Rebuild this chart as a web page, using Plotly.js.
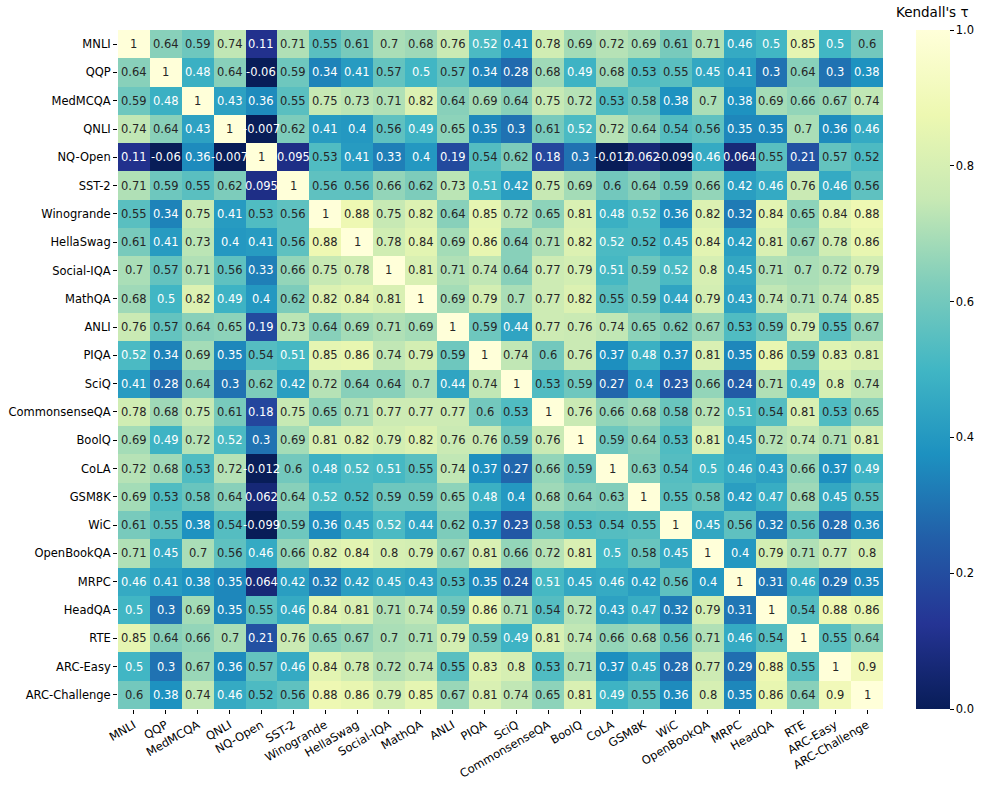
<!DOCTYPE html>
<html>
<head>
<meta charset="utf-8">
<script src="https://cdn.plot.ly/plotly-3.0.1.min.js"></script>
<style>
  body { margin: 0; background: #fff; }
  #chart { width: 987px; height: 787px; }
</style>
</head>
<body>
<div id="chart"></div>
<script>
// task names, same order on both axes
const tasks = ['MNLI','QQP','MedMCQA','QNLI','NQ-Open','SST-2','Winogrande','HellaSwag','Social-IQA','MathQA',
  'ANLI','PIQA','SciQ','CommonsenseQA','BoolQ','CoLA','GSM8K','WiC','OpenBookQA','MRPC','HeadQA','RTE','ARC-Easy','ARC-Challenge'];

// Kendall's tau, one row per task
// (a third decimal where the label colour shows the value sits just above .52)
const mnli       = [1, 0.64, 0.59, 0.74, 0.11, 0.71, 0.55, 0.61, 0.7, 0.68, 0.76, 0.52, 0.41, 0.78, 0.69, 0.72, 0.69, 0.61, 0.71, 0.46, 0.5, 0.85, 0.5, 0.6];
const qqp        = [0.64, 1, 0.48, 0.64, -0.06, 0.59, 0.34, 0.41, 0.57, 0.5, 0.57, 0.34, 0.28, 0.68, 0.49, 0.68, 0.53, 0.55, 0.45, 0.41, 0.3, 0.64, 0.3, 0.38];
const medmcqa    = [0.59, 0.48, 1, 0.43, 0.36, 0.55, 0.75, 0.73, 0.71, 0.82, 0.64, 0.69, 0.64, 0.75, 0.72, 0.53, 0.58, 0.38, 0.7, 0.38, 0.69, 0.66, 0.67, 0.74];
const qnli       = [0.74, 0.64, 0.43, 1, -0.007, 0.62, 0.41, 0.4, 0.56, 0.49, 0.65, 0.35, 0.3, 0.61, 0.52, 0.72, 0.64, 0.54, 0.56, 0.35, 0.35, 0.7, 0.36, 0.46];
const nqOpen     = [0.11, -0.06, 0.36, -0.007, 1, 0.095, 0.53, 0.41, 0.33, 0.4, 0.19, 0.54, 0.62, 0.18, 0.3, -0.012, 0.062, -0.099, 0.46, 0.064, 0.55, 0.21, 0.57, 0.524];
const sst2       = [0.71, 0.59, 0.55, 0.62, 0.095, 1, 0.56, 0.56, 0.66, 0.62, 0.73, 0.51, 0.42, 0.75, 0.69, 0.6, 0.64, 0.59, 0.66, 0.42, 0.46, 0.76, 0.46, 0.56];
const winogrande = [0.55, 0.34, 0.75, 0.41, 0.53, 0.56, 1, 0.88, 0.75, 0.82, 0.64, 0.85, 0.72, 0.65, 0.81, 0.48, 0.52, 0.36, 0.82, 0.32, 0.84, 0.65, 0.84, 0.88];
const hellaswag  = [0.61, 0.41, 0.73, 0.4, 0.41, 0.56, 0.88, 1, 0.78, 0.84, 0.69, 0.86, 0.64, 0.71, 0.82, 0.52, 0.524, 0.45, 0.84, 0.42, 0.81, 0.67, 0.78, 0.86];
const socialIqa  = [0.7, 0.57, 0.71, 0.56, 0.33, 0.66, 0.75, 0.78, 1, 0.81, 0.71, 0.74, 0.64, 0.77, 0.79, 0.51, 0.59, 0.52, 0.8, 0.45, 0.71, 0.7, 0.72, 0.79];
const mathqa     = [0.68, 0.5, 0.82, 0.49, 0.4, 0.62, 0.82, 0.84, 0.81, 1, 0.69, 0.79, 0.7, 0.77, 0.82, 0.55, 0.59, 0.44, 0.79, 0.43, 0.74, 0.71, 0.74, 0.85];
const anli       = [0.76, 0.57, 0.64, 0.65, 0.19, 0.73, 0.64, 0.69, 0.71, 0.69, 1, 0.59, 0.44, 0.77, 0.76, 0.74, 0.65, 0.62, 0.67, 0.53, 0.59, 0.79, 0.55, 0.67];
const piqa       = [0.52, 0.34, 0.69, 0.35, 0.54, 0.51, 0.85, 0.86, 0.74, 0.79, 0.59, 1, 0.74, 0.6, 0.76, 0.37, 0.48, 0.37, 0.81, 0.35, 0.86, 0.59, 0.83, 0.81];
const sciq       = [0.41, 0.28, 0.64, 0.3, 0.62, 0.42, 0.72, 0.64, 0.64, 0.7, 0.44, 0.74, 1, 0.53, 0.59, 0.27, 0.4, 0.23, 0.66, 0.24, 0.71, 0.49, 0.8, 0.74];
const csqa       = [0.78, 0.68, 0.75, 0.61, 0.18, 0.75, 0.65, 0.71, 0.77, 0.77, 0.77, 0.6, 0.53, 1, 0.76, 0.66, 0.68, 0.58, 0.72, 0.51, 0.54, 0.81, 0.53, 0.65];
const boolq      = [0.69, 0.49, 0.72, 0.52, 0.3, 0.69, 0.81, 0.82, 0.79, 0.82, 0.76, 0.76, 0.59, 0.76, 1, 0.59, 0.64, 0.53, 0.81, 0.45, 0.72, 0.74, 0.71, 0.81];
const cola       = [0.72, 0.68, 0.53, 0.72, -0.012, 0.6, 0.48, 0.52, 0.51, 0.55, 0.74, 0.37, 0.27, 0.66, 0.59, 1, 0.63, 0.54, 0.5, 0.46, 0.43, 0.66, 0.37, 0.49];
const gsm8k      = [0.69, 0.53, 0.58, 0.64, 0.062, 0.64, 0.52, 0.524, 0.59, 0.59, 0.65, 0.48, 0.4, 0.68, 0.64, 0.63, 1, 0.55, 0.58, 0.42, 0.47, 0.68, 0.45, 0.55];
const wic        = [0.61, 0.55, 0.38, 0.54, -0.099, 0.59, 0.36, 0.45, 0.52, 0.44, 0.62, 0.37, 0.23, 0.58, 0.53, 0.54, 0.55, 1, 0.45, 0.56, 0.32, 0.56, 0.28, 0.36];
const openbookqa = [0.71, 0.45, 0.7, 0.56, 0.46, 0.66, 0.82, 0.84, 0.8, 0.79, 0.67, 0.81, 0.66, 0.72, 0.81, 0.5, 0.58, 0.45, 1, 0.4, 0.79, 0.71, 0.77, 0.8];
const mrpc       = [0.46, 0.41, 0.38, 0.35, 0.064, 0.42, 0.32, 0.42, 0.45, 0.43, 0.53, 0.35, 0.24, 0.51, 0.45, 0.46, 0.42, 0.56, 0.4, 1, 0.31, 0.46, 0.29, 0.35];
const headqa     = [0.5, 0.3, 0.69, 0.35, 0.55, 0.46, 0.84, 0.81, 0.71, 0.74, 0.59, 0.86, 0.71, 0.54, 0.72, 0.43, 0.47, 0.32, 0.79, 0.31, 1, 0.54, 0.88, 0.86];
const rte        = [0.85, 0.64, 0.66, 0.7, 0.21, 0.76, 0.65, 0.67, 0.7, 0.71, 0.79, 0.59, 0.49, 0.81, 0.74, 0.66, 0.68, 0.56, 0.71, 0.46, 0.54, 1, 0.55, 0.64];
const arcEasy    = [0.5, 0.3, 0.67, 0.36, 0.57, 0.46, 0.84, 0.78, 0.72, 0.74, 0.55, 0.83, 0.8, 0.53, 0.71, 0.37, 0.45, 0.28, 0.77, 0.29, 0.88, 0.55, 1, 0.9];
const arcChall   = [0.6, 0.38, 0.74, 0.46, 0.524, 0.56, 0.88, 0.86, 0.79, 0.85, 0.67, 0.81, 0.74, 0.65, 0.81, 0.49, 0.55, 0.36, 0.8, 0.35, 0.86, 0.64, 0.9, 1];

const z = [mnli, qqp, medmcqa, qnli, nqOpen, sst2, winogrande, hellaswag, socialIqa, mathqa, anli, piqa, sciq,
  csqa, boolq, cola, gsm8k, wic, openbookqa, mrpc, headqa, rte, arcEasy, arcChall];

// matplotlib YlGnBu, reversed (0 = dark navy, 1 = pale yellow)
const ylgnbu = ['#081d58','#253494','#225ea8','#1d91c0','#41b6c4','#7fcdbb','#c7e9b4','#edf8b1','#ffffd9'];
const cscale = ylgnbu.map((c, i) => [i / (ylgnbu.length - 1), c]);

const FONT = 'DejaVu Sans, sans-serif';

function hexRgb(h) {
  return [1, 3, 5].map(k => parseInt(h.substr(k, 2), 16) / 255);
}
// colour of a value, like the 256-entry mpl lookup table
function colorOf(v) {
  v = Math.max(0, Math.min(1, v));
  let t = Math.min(255, Math.floor(v * 256)) / 255;
  let seg = t * (ylgnbu.length - 1);
  let i = Math.min(ylgnbu.length - 2, Math.floor(seg));
  let f = seg - i;
  let a = hexRgb(ylgnbu[i]), b = hexRgb(ylgnbu[i + 1]);
  return a.map((x, k) => x + (b[k] - x) * f);
}
// seaborn picks the annotation colour from the cell luminance
function luminance(rgb) {
  let lin = rgb.map(c => c <= 0.03928 ? c / 12.92 : Math.pow((c + 0.055) / 1.055, 2.4));
  return 0.2126 * lin[0] + 0.7152 * lin[1] + 0.0722 * lin[2];
}
const fmt = v => String(Number(v.toPrecision(2)));  // like '.2g'

let annotations = [];
for (let i = 0; i < z.length; ++i) {
  for (let j = 0; j < z[i].length; ++j) {
    let v = z[i][j];
    annotations.push({
      x: tasks[j], y: tasks[i], xref: 'x', yref: 'y',
      text: fmt(v), showarrow: false,
      font: { family: FONT, size: 11.5, color: luminance(colorOf(v)) > 0.408 ? '#262626' : '#ffffff' }
    });
  }
}
annotations.push({
  xref: 'paper', yref: 'paper', x: 1.065, y: 1.026, xanchor: 'center', yanchor: 'middle',
  text: "Kendall's τ", showarrow: false,
  font: { family: FONT, size: 13.5, color: '#000' }
});

const trace = {
  type: 'heatmap',
  x: tasks, y: tasks, z: z,
  zmin: 0, zmax: 1,
  colorscale: cscale,
  hoverongaps: false,
  colorbar: {
    x: 1.043, xanchor: 'left', y: 0.5, yanchor: 'middle',
    len: 1, lenmode: 'fraction', thickness: 34, thicknessmode: 'pixels',
    xpad: 0, ypad: 0, outlinewidth: 0,
    ticks: 'outside', ticklen: 4, tickwidth: 1, tickcolor: '#000',
    tickvals: [0, 0.2, 0.4, 0.6, 0.8, 1.0], tickformat: '.1f',
    tickfont: { family: FONT, size: 11.5, color: '#000' }
  }
};

const layout = {
  width: 987, height: 787,
  margin: { l: 118, r: 102, t: 30, b: 78, pad: 0 },
  paper_bgcolor: '#fff', plot_bgcolor: '#fff',
  font: { family: FONT, size: 11.5, color: '#000' },
  xaxis: {
    tickangle: -30, ticks: 'outside', ticklen: 4, tickwidth: 1, tickcolor: '#000',
    showgrid: false, zeroline: false, showline: false,
    tickfont: { family: FONT, size: 11.5, color: '#000' }
  },
  yaxis: {
    autorange: 'reversed', ticks: 'outside', ticklen: 4, tickwidth: 1, tickcolor: '#000',
    showgrid: false, zeroline: false, showline: false,
    tickfont: { family: FONT, size: 11.5, color: '#000' }
  },
  annotations: annotations,
  showlegend: false
};

Plotly.newPlot('chart', [trace], layout, { displayModeBar: false, staticPlot: true });
</script>
</body>
</html>
